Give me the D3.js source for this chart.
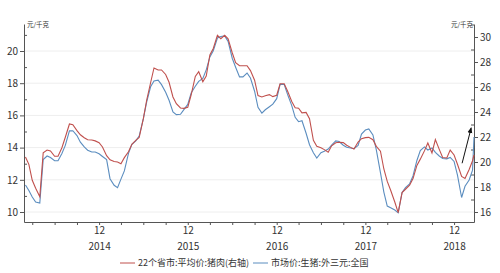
<!DOCTYPE html>
<html>
<head>
<meta charset="utf-8">
<script src="https://cdn.jsdelivr.net/npm/d3@7"></script>
<style>
    body { margin: 0; background: #fff; }
    svg { display: block; }
    text { font-family: "Noto Sans CJK SC", "Noto Sans", sans-serif; fill: #333; }
</style>
</head>
<body>
<svg id="vis" width="500" height="273"></svg>
<script>
// semi-monthly readings, 2014-02 .. 2019-02
let dates = [
    "2014-02-01", "2014-02-15", "2014-03-01", "2014-03-15", "2014-04-01", "2014-04-15",
    "2014-05-01", "2014-05-15", "2014-06-01", "2014-06-15", "2014-07-01", "2014-07-15",
    "2014-08-01", "2014-08-15", "2014-09-01", "2014-09-15", "2014-10-01", "2014-10-15",
    "2014-11-01", "2014-11-15", "2014-12-01", "2014-12-15",
    "2015-01-01", "2015-01-15", "2015-02-01", "2015-02-15", "2015-03-01", "2015-03-15",
    "2015-04-01", "2015-04-15", "2015-05-01", "2015-05-15", "2015-06-01", "2015-06-15",
    "2015-07-01", "2015-07-15", "2015-08-01", "2015-08-15", "2015-09-01", "2015-09-15",
    "2015-10-01", "2015-10-15", "2015-11-01", "2015-11-15", "2015-12-01", "2015-12-15",
    "2016-01-01", "2016-01-15", "2016-02-01", "2016-02-15", "2016-03-01", "2016-03-15",
    "2016-04-01", "2016-04-15", "2016-05-01", "2016-05-15", "2016-06-01", "2016-06-15",
    "2016-07-01", "2016-07-15", "2016-08-01", "2016-08-15", "2016-09-01", "2016-09-15",
    "2016-10-01", "2016-10-15", "2016-11-01", "2016-11-15", "2016-12-01", "2016-12-15",
    "2017-01-01", "2017-01-15", "2017-02-01", "2017-02-15", "2017-03-01", "2017-03-15",
    "2017-04-01", "2017-04-15", "2017-05-01", "2017-05-15", "2017-06-01", "2017-06-15",
    "2017-07-01", "2017-07-15", "2017-08-01", "2017-08-15", "2017-09-01", "2017-09-15",
    "2017-10-01", "2017-10-15", "2017-11-01", "2017-11-15", "2017-12-01", "2017-12-15",
    "2018-01-01", "2018-01-15", "2018-02-01", "2018-02-15", "2018-03-01", "2018-03-15",
    "2018-04-01", "2018-04-15", "2018-05-01", "2018-05-15", "2018-06-01", "2018-06-15",
    "2018-07-01", "2018-07-15", "2018-08-01", "2018-08-15", "2018-09-01", "2018-09-15",
    "2018-10-01", "2018-10-15", "2018-11-01", "2018-11-15", "2018-12-01", "2018-12-15",
    "2019-01-01", "2019-01-15", "2019-02-01", "2019-02-15", "2019-02-21"
];

// 22个省市 平均价 猪肉 (right axis)
let porkPrice = [
    20.40, 19.81, 18.54, 17.90, 17.22, 20.73, 20.96, 20.88, 20.46, 20.46, 21.14, 21.98,
    23.04, 22.98, 22.51, 22.18, 21.94, 21.78, 21.76, 21.69, 21.55, 21.20,
    20.51, 20.18, 20.04, 20.00, 19.86, 20.35, 20.82, 21.42, 21.73, 21.96, 23.45, 24.96,
    26.34, 27.52, 27.36, 27.36, 27.00, 26.38, 25.20, 24.66, 24.32, 24.29, 24.38, 25.38,
    26.84, 27.22, 26.42, 26.88, 28.56, 29.08, 30.13, 29.86, 30.14, 29.86, 28.74, 27.95,
    27.70, 27.70, 27.70, 27.31, 26.54, 25.32, 25.20, 25.30, 25.39, 25.23, 25.34, 26.26,
    26.26, 25.66, 24.84, 24.34, 24.30, 23.93, 23.97, 23.47, 21.74, 21.26, 21.14, 20.99,
    20.78, 21.30, 21.54, 21.58, 21.55, 21.34, 21.17, 21.04, 21.60, 21.87, 21.95, 21.97,
    21.78, 21.25, 20.87, 19.44, 18.45, 17.74, 16.80, 15.95, 17.55, 17.82, 18.14, 18.67,
    19.73, 20.23, 20.89, 21.52, 20.72, 21.80, 21.01, 20.36, 20.32, 20.95, 20.56, 19.82,
    18.84, 18.68, 19.40, 20.10, 20.56
];

// 市场价 生猪 外三元 全国 (left axis)
let hogPrice = [
    11.68, 11.34, 10.93, 10.62, 10.55, 13.26, 13.48, 13.38, 13.18, 13.19, 13.63, 14.14,
    15.04, 15.05, 14.75, 14.34, 14.04, 13.84, 13.73, 13.73, 13.62, 13.45,
    13.25, 12.07, 11.66, 11.51, 12.04, 12.55, 13.64, 14.20, 14.42, 14.72, 15.78, 16.84,
    17.78, 18.14, 18.19, 17.91, 17.44, 16.94, 16.21, 16.05, 16.07, 16.36, 16.68, 17.39,
    17.81, 18.11, 18.30, 18.83, 19.63, 20.02, 20.81, 20.90, 20.94, 20.60, 19.55, 18.99,
    18.39, 18.39, 18.63, 18.32, 17.50, 16.50, 16.14, 16.35, 16.54, 16.70, 17.04, 17.93,
    17.92, 17.29, 16.61, 15.88, 15.61, 15.67, 14.89, 14.18, 13.68, 13.35, 13.68, 13.77,
    13.91, 14.16, 14.42, 14.38, 14.15, 14.02, 13.98, 13.93, 14.14, 14.84, 15.09, 15.16,
    14.79, 13.86, 12.44, 11.24, 10.37, 10.26, 10.12, 9.95, 11.22, 11.51, 11.75, 12.24,
    13.20, 13.82, 14.04, 13.85, 13.98, 13.70, 13.48, 13.32, 13.30, 13.39, 13.14, 12.29,
    10.90, 11.60, 11.99, 12.60, 14.66
];

let leftTicks = [10, 12, 14, 16, 18, 20];
let leftMinor = [11, 13, 15, 17, 19, 21];
let rightTicks = [16, 18, 20, 22, 24, 26, 28, 30];
let rightMinor = [17, 19, 21, 23, 25, 27, 29, 31];
let seriesNames = ["22个省市:平均价:猪肉(右轴)", "市场价:生猪:外三元:全国"];
let unitLabel = "元/千克";

// hand-drawn arrow in the picture, right-axis units
let arrowDates = ["2019-01-03", "2019-02-09"];
let arrowValues = [19.9, 22.7];

let colRed = "#c0504d",
    colBlue = "#5b8dbf";

let svg = d3.select("#vis");
let parse = d3.timeParse("%Y-%m-%d");

let plot = {left: 24, right: 474, top: 24, bottom: 222};

let x = d3.scaleTime()
    .domain([parse("2014-01-26"), parse("2019-02-21")])
    .range([plot.left, plot.right]);

let yL = d3.scaleLinear()
    .domain([9.379, 21.677])
    .range([plot.bottom, plot.top]);

let yR = d3.scaleLinear()
    .domain([15.2, 31.04])
    .range([plot.bottom, plot.top]);

// faint grid on the left ticks
svg.append("g")
    .selectAll("line")
    .data(leftTicks)
    .enter()
    .append("line")
    .attr("x1", plot.left)
    .attr("x2", plot.right)
    .attr("y1", d => yL(d))
    .attr("y2", d => yL(d))
    .attr("stroke", "#eeeeee")
    .attr("stroke-width", 1);

// axes
function styleAxis(g) {
    g.selectAll(".domain").attr("stroke", "#555");
    g.selectAll(".tick line").attr("stroke", "#555");
    g.selectAll("text")
        .style("font-size", "10px")
        .attr("fill", "#333");
}

svg.append("g")
    .attr("transform", "translate(" + plot.left + ",0)")
    .call(d3.axisLeft(yL).tickValues(leftTicks).tickSize(4).tickSizeOuter(0).tickPadding(2))
    .call(styleAxis);

svg.append("g")
    .attr("transform", "translate(" + plot.left + ",0)")
    .call(d3.axisLeft(yL).tickValues(leftMinor).tickSize(-3).tickSizeOuter(0).tickFormat(""))
    .call(styleAxis)
    .select(".domain").remove();

svg.append("g")
    .attr("transform", "translate(" + plot.right + ",0)")
    .call(d3.axisRight(yR).tickValues(rightTicks).tickSize(4).tickSizeOuter(0).tickPadding(2))
    .call(styleAxis);

svg.append("g")
    .attr("transform", "translate(" + plot.right + ",0)")
    .call(d3.axisRight(yR).tickValues(rightMinor.filter(v => v < 31.04)).tickSize(-3).tickSizeOuter(0).tickFormat(""))
    .call(styleAxis)
    .select(".domain").remove();

// quarterly ticks, December gets "12" and the year underneath
let quarterTicks = d3.timeMonth.range(parse("2014-02-01"), parse("2019-02-21"))
    .filter(d => d.getMonth() % 3 === 2);

let xAxis = svg.append("g")
    .attr("transform", "translate(0," + plot.bottom + ")")
    .call(d3.axisBottom(x)
        .tickValues(quarterTicks)
        .tickSize(3)
        .tickSizeOuter(0)
        .tickPadding(3)
        .tickFormat(d => d.getMonth() === 11 ? d3.timeFormat("%m")(d) : ""))
    .call(styleAxis);

xAxis.selectAll(".tick text")
    .attr("dy", "0.6em");

xAxis.selectAll(".tick")
    .filter(d => d.getMonth() === 11)
    .append("text")
    .attr("y", 22)
    .attr("dy", "0.6em")
    .attr("text-anchor", "middle")
    .style("font-size", "10px")
    .attr("fill", "#333")
    .text(d => d.getFullYear());

// unit labels
svg.append("text")
    .attr("x", plot.left + 3)
    .attr("y", plot.top + 3)
    .style("font-size", "6.5px")
    .text(unitLabel);

svg.append("text")
    .attr("x", plot.right - 1)
    .attr("y", plot.top + 3)
    .attr("text-anchor", "end")
    .style("font-size", "6.5px")
    .text(unitLabel);

// lines
let rows = dates.map((d, i) => ({date: parse(d), pork: porkPrice[i], hog: hogPrice[i]}));

let hogLine = d3.line()
    .x(d => x(d.date))
    .y(d => yL(d.hog));

let porkLine = d3.line()
    .x(d => x(d.date))
    .y(d => yR(d.pork));

svg.append("path")
    .datum(rows)
    .attr("d", hogLine)
    .attr("fill", "none")
    .attr("stroke", colBlue)
    .attr("stroke-width", 1.1);

svg.append("path")
    .datum(rows)
    .attr("d", porkLine)
    .attr("fill", "none")
    .attr("stroke", colRed)
    .attr("stroke-width", 1.1);

// arrow
svg.append("defs")
    .append("marker")
    .attr("id", "arrowHead")
    .attr("viewBox", "0 0 10 10")
    .attr("refX", 8)
    .attr("refY", 5)
    .attr("markerWidth", 6)
    .attr("markerHeight", 6)
    .attr("orient", "auto")
    .append("path")
    .attr("d", "M0,1L10,5L0,9Z")
    .attr("fill", "#111");

svg.append("line")
    .attr("x1", x(parse(arrowDates[0])))
    .attr("y1", yR(arrowValues[0]))
    .attr("x2", x(parse(arrowDates[1])))
    .attr("y2", yR(arrowValues[1]))
    .attr("stroke", "#111")
    .attr("stroke-width", 1)
    .attr("marker-end", "url(#arrowHead)");

// legend
let legend = svg.append("g")
    .attr("transform", "translate(120,263)");

let legendItems = [
    {name: seriesNames[0], color: colRed, dx: 0},
    {name: seriesNames[1], color: colBlue, dx: 133}
];

legendItems.forEach(function (it) {
    let g = legend.append("g").attr("transform", "translate(" + it.dx + ",0)");
    g.append("line")
        .attr("x1", 0)
        .attr("x2", 15)
        .attr("y1", 0)
        .attr("y2", 0)
        .attr("stroke", it.color)
        .attr("stroke-width", 1);
    g.append("text")
        .attr("x", 18)
        .attr("y", 0)
        .attr("dy", "0.35em")
        .style("font-size", "9px")
        .attr("fill", "#444")
        .text(it.name);
});
</script>
</body>
</html>
